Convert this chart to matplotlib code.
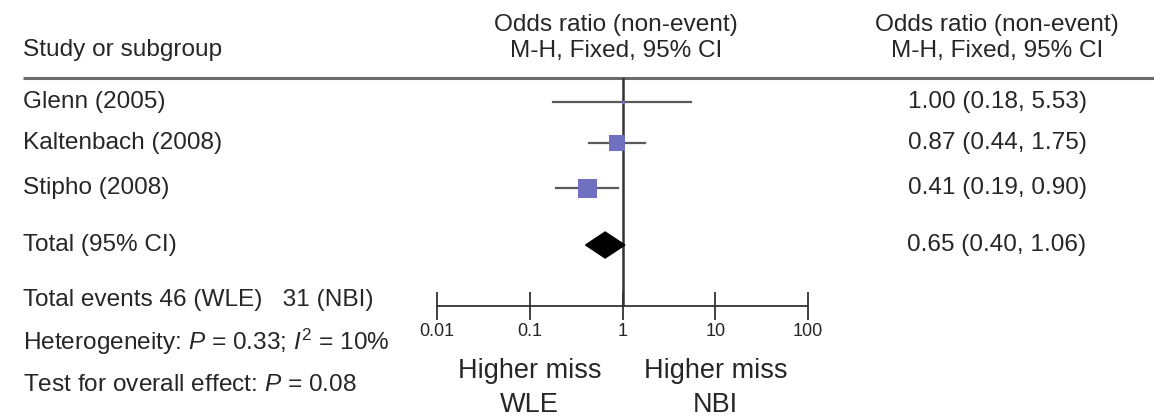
import matplotlib
matplotlib.use("Agg")
import matplotlib.pyplot as plt
import matplotlib.transforms as mtransforms

plt.rcParams['font.family'] = ['Liberation Sans', 'DejaVu Sans']
plt.rcParams['mathtext.fontset'] = 'custom'
plt.rcParams['mathtext.rm'] = 'Liberation Sans'
plt.rcParams['mathtext.it'] = 'Liberation Sans:italic'

# ---------------- data ----------------
studies = ["Glenn (2005)", "Kaltenbach (2008)", "Stipho (2008)"]
odds_ratio = [1.00, 0.87, 0.41]
ci_lower = [0.18, 0.44, 0.19]
ci_upper = [5.53, 1.75, 0.90]
ci_text = ["1.00 (0.18, 5.53)", "0.87 (0.44, 1.75)", "0.41 (0.19, 0.90)"]

total_label = "Total (95% CI)"
total_or = 0.65
total_lower = 0.40
total_upper = 1.06
total_text = "0.65 (0.40, 1.06)"

footer_lines = ["Total events 46 (WLE)   31 (NBI)",
                r"Heterogeneity: $P$ = 0.33; $I^2$ = 10%",
                r"Test for overall effect: $P$ = 0.08"]

tick_values = [0.01, 0.1, 1, 10, 100]
tick_labels = ["0.01", "0.1", "1", "10", "100"]
favours_left = "Higher miss\nWLE"
favours_right = "Higher miss\nNBI"
header_left = "Study or subgroup"
header_mid = "Odds ratio (non-event)\nM-H, Fixed, 95% CI"

# ---------------- layout (pixels) ----------------
W, H = 1154, 417
row_px = [102, 143, 188]
total_px = 245
footer_px = [300, 342, 385]
ax_top, ax_bot = 78, 306
ax_left, ax_right = 437, 808
marker_px = [3, 16, 19]
fs = 17.6
txt_color = '#262626'

fig = plt.figure(figsize=(W / 100, H / 100), dpi=100)
tx = fig.add_axes([0, 0, 1, 1])
tx.set_xlim(0, W)
tx.set_ylim(H, 0)
tx.axis('off')

ax = fig.add_axes([ax_left / W, (H - ax_bot) / H, (ax_right - ax_left) / W, (ax_bot - ax_top) / H])
ax.set_xscale('log')
ax.set_xlim(0.01, 100)
ax.set_ylim(ax_bot, ax_top)
ax.patch.set_alpha(0)
for s in ['top', 'right', 'left']:
    ax.spines[s].set_visible(False)
ax.spines['bottom'].set_color('#333333')
ax.spines['bottom'].set_linewidth(1.3)
ax.set_yticks([])
ax.set_xticks(tick_values)
ax.set_xticklabels(tick_labels)
ax.minorticks_off()
ax.tick_params(axis='x', direction='inout', length=20, width=1.3, color='#333333',
               labelsize=13, pad=2, labelcolor=txt_color)
ax.axvline(1, color='#333333', lw=1.8, zorder=1)

# header
tx.text(23, 50, header_left, fontsize=fs, ha='left', va='center', color=txt_color)
tx.text(616, 38, header_mid, fontsize=fs, ha='center', va='center', color=txt_color, linespacing=1.2)
tx.text(997, 38, header_mid, fontsize=fs, ha='center', va='center', color=txt_color, linespacing=1.2)
tx.plot([23, W], [78, 78], color='#6a6a6a', lw=2.2, solid_capstyle='butt')

# studies
for i, name in enumerate(studies):
    y = row_px[i]
    tx.text(23, y, name, fontsize=fs, ha='left', va='center', color=txt_color)
    tx.text(997, y, ci_text[i], fontsize=fs, ha='center', va='center', color=txt_color)
    ax.plot([ci_lower[i], ci_upper[i]], [y, y], color='#5a5a5a', lw=1.6, zorder=2)
    ax.plot([odds_ratio[i]], [y], marker='s', markersize=marker_px[i] * 0.72,
            color='#7070c0', markeredgewidth=0, zorder=3)

# total
tx.text(23, total_px, total_label, fontsize=fs, ha='left', va='center', color=txt_color)
tx.text(997, total_px, total_text, fontsize=fs, ha='center', va='center', color=txt_color)
h = 13
ax.fill([total_lower, total_or, total_upper, total_or],
        [total_px, total_px - h, total_px, total_px + h], color='black', zorder=4)

# footer
for y, t in zip(footer_px, footer_lines):
    tx.text(23, y, t, fontsize=fs, ha='left', va='center', color=txt_color)

# favours labels
bt = mtransforms.blended_transform_factory(ax.transData, tx.transData)
tx.text(0.1, 388, favours_left, transform=bt, fontsize=19.5, ha='center', va='center',
        color=txt_color, linespacing=1.4)
tx.text(10, 388, favours_right, transform=bt, fontsize=19.5, ha='center', va='center',
        color=txt_color, linespacing=1.4)

fig.savefig("out.png", dpi=100)
